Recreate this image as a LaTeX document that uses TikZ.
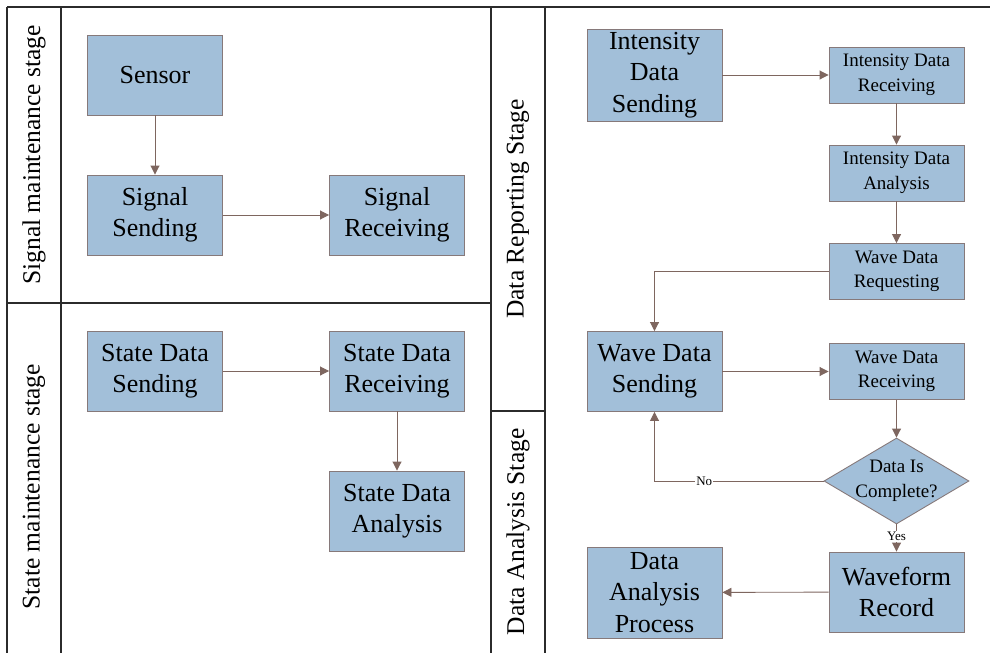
\documentclass[tikz,border=0pt]{standalone}
\usepackage{fontspec}
\setmainfont{Liberation Serif}
\usetikzlibrary{arrows.meta,shapes.geometric}
\definecolor{boxfill}{HTML}{A2BFD9}
\definecolor{boxline}{HTML}{86797A}
\definecolor{arrcol}{HTML}{7E665F}
\definecolor{lanecol}{HTML}{2B2B2B}

\begin{document}
\begin{tikzpicture}[x=1pt,y=-1pt,
  blk/.style={draw=boxline,fill=boxfill,line width=0.9pt,minimum width=135pt,minimum height=80pt,align=center,inner sep=0pt,font=\fontsize{26}{31.5}\selectfont},
  sblk/.style={blk,minimum height=56pt,font=\fontsize{19}{24.5}\selectfont},
  chk/.style={diamond,draw=boxline,fill=boxfill,line width=0.9pt,minimum width=145pt,minimum height=86pt,inner sep=0pt},
  lane/.style={rotate=90,font=\fontsize{25.5}{30}\selectfont},
  arr/.style={-{Triangle[length=9pt,width=9pt]},draw=arrcol,line width=0.9pt},
  lbl/.style={fill=white,inner sep=1pt,font=\fontsize{13}{15}\selectfont}]
\useasboundingbox (0,0) rectangle (990,653);
% swimlane frame
\draw[lanecol,line width=1.4pt] (7,7)--(990,7);
\draw[lanecol,line width=1.4pt] (7,7)--(7,653) (61,7)--(61,653) (491,7)--(491,653) (545,7)--(545,653);
\draw[lanecol,line width=1.4pt] (7,303)--(491,303) (491,411)--(545,411);
\node[lane] (l1) at (34,155){Signal maintenance stage};
\node[lane] (l2) at (34,487){State maintenance stage};
\node[lane] (l3) at (518,209){Data Reporting Stage};
\node[lane] (l4) at (518,532){Data Analysis Stage};
% left half
\node[blk] (sensor) at (155,75){Sensor};
\node[blk] (sigsend) at (155,215){Signal\\Sending};
\node[blk] (sigrecv) at (397,215){Signal\\Receiving};
\node[blk] (stsend) at (155,371){State Data\\Sending};
\node[blk] (strecv) at (397,371){State Data\\Receiving};
\node[blk] (stana) at (397,511){State Data\\Analysis};
% right half
\node[blk,minimum height=92pt] (intsend) at (654.5,75){Intensity\\Data\\Sending};
\node[sblk] (intrecv) at (896.5,75){Intensity Data\\Receiving};
\node[sblk] (intana) at (896.5,173){Intensity Data\\Analysis};
\node[sblk] (wavereq) at (896.5,271.5){Wave Data\\Requesting};
\node[blk] (wavesend) at (654.5,371.5){Wave Data\\Sending};
\node[sblk] (waverecv) at (896.5,371.5){Wave Data\\Receiving};
\node[chk,label={[align=center,font=\fontsize{19}{24.5}\selectfont]center:Data Is\\Complete?}] (check) at (896.5,481){};
\node[blk] (wavrec) at (896.5,592){Waveform\\Record};
\node[blk,minimum height=91pt] (anaproc) at (654.5,592.5){Data\\Analysis\\Process};
\draw[arr] (sensor)--(sigsend); \draw[arr] (sigsend)--(sigrecv);
\draw[arr] (stsend)--(strecv); \draw[arr] (strecv)--(stana);
\draw[arr] (intsend)--(intrecv); \draw[arr] (intrecv)--(intana); \draw[arr] (intana)--(wavereq);
\draw[arr] (wavereq.west)-|(wavesend.north);
\draw[arr] (wavesend)--(waverecv); \draw[arr] (waverecv)--(check);
\draw[arr] (check.west)-|node[lbl,pos=0.353]{No}(wavesend.south);
\draw[arr] (check.south)--node[lbl,pos=0.45]{Yes}(wavrec.north);
\draw[arr] (wavrec)--(anaproc);
\end{tikzpicture}
\end{document}
